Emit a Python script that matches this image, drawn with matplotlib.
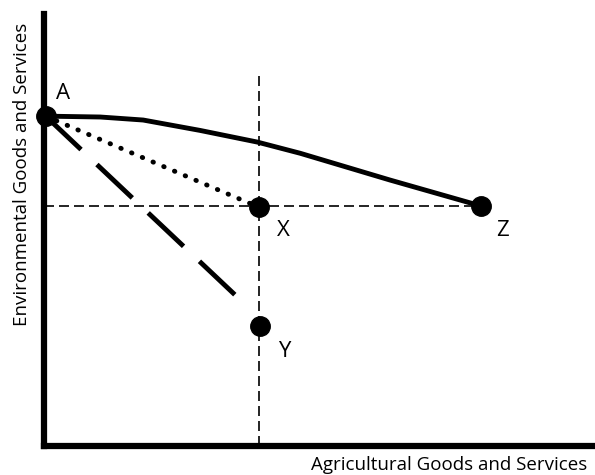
import matplotlib.pyplot as plt

# points (data units, axes run 0..100 on both)
pt_names = ['A', 'X', 'Y', 'Z']
pt_x = [0.3, 39.0, 39.2, 79.3]
pt_y = [76.4, 55.3, 27.8, 55.6]

# solid curve A -> Z
curve_x = [0.3, 10.2, 18.0, 28.3, 38.7, 46.5, 62.8, 79.3]
curve_y = [76.4, 76.2, 75.5, 73.1, 70.4, 67.8, 61.6, 55.6]

# dashed line from A toward Y (stops short of Y)
dash_x = [0.3, 35.5]
dash_y = [76.4, 34.0]

fig = plt.figure(figsize=(5.95, 4.75), dpi=100)
ax = fig.add_axes([0.074, 0.061, 0.926, 0.909])
ax.set_xlim(0, 100)
ax.set_ylim(0, 100)

# guide lines through X
ax.plot([39.0, 39.0], [0, 86.6], color='black', lw=1.2, dashes=(6, 3))
ax.plot([0, 79.3], [55.5, 55.5], color='black', lw=1.2, dashes=(6, 3))

ax.plot(curve_x, curve_y, color='black', lw=3.5, solid_capstyle='round')
ax.plot([pt_x[0], pt_x[1]], [pt_y[0], pt_y[1]], color='black', lw=3.5,
        linestyle=(0, (0.1, 2.3)), dash_capstyle='round')
ax.plot(dash_x, dash_y, color='black', lw=3.5, dashes=(10, 4.5))

ax.plot(pt_x, pt_y, 'o', color='black', ms=14, clip_on=False, zorder=5)

offsets = {'A': (3.2, 5.3), 'X': (4.4, -5.3), 'Y': (4.4, -6.0), 'Z': (4.0, -5.7)}
for n, x, y in zip(pt_names, pt_x, pt_y):
    dx, dy = offsets[n]
    ax.text(x + dx, y + dy, n, fontsize=16, ha='center', va='center',
            family='Open Sans')

for s in ['top', 'right']:
    ax.spines[s].set_visible(False)
for s in ['left', 'bottom']:
    ax.spines[s].set_linewidth(4.5)
ax.set_xticks([])
ax.set_yticks([])

fig.text(0.987, 0.021, 'Agricultural Goods and Services', ha='right',
         va='center', fontsize=13.5, family='Open Sans')
fig.text(0.037, 0.952, 'Environmental Goods and Services', rotation=90,
         ha='center', va='top', fontsize=13.5, family='Open Sans')

fig.savefig('out.png', dpi=100)
